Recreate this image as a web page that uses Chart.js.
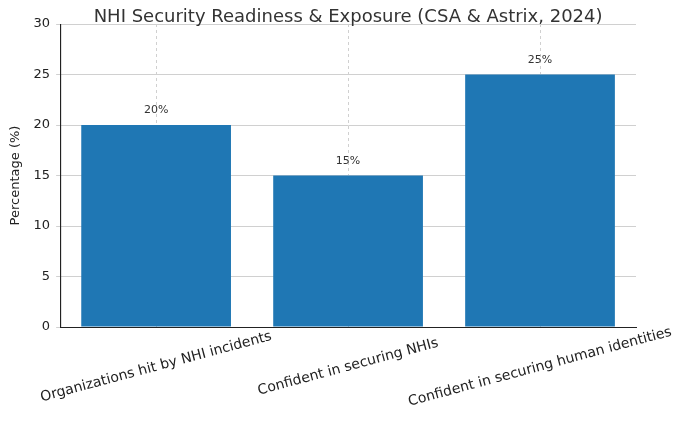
<!DOCTYPE html>
<html><head><meta charset="utf-8">
<script src="https://cdn.jsdelivr.net/npm/chart.js@4"></script>
<style>body{margin:0;background:#fff}#w{width:680px;height:427px}</style>
</head><body><div id="w"><canvas id="c"></canvas></div>
<script>
const categories = ["Organizations hit by NHI incidents","Confident in securing NHIs","Confident in securing human identities"];
const values = [20, 15, 25];
const yTicks = [0,5,10,15,20,25,30];
const FONT = "'DejaVu Sans', sans-serif";

const overlay = {
  id:'overlay',
  afterDatasetsDraw(chart){
    const ctx = chart.ctx, x = chart.scales.x, y = chart.scales.y;
    ctx.save();
    ctx.fillStyle = '#333';
    ctx.font = '11px ' + FONT;
    ctx.textAlign = 'center'; ctx.textBaseline = 'bottom';
    values.forEach((v,i)=>{ ctx.fillText(v+'%', x.getPixelForValue(i), y.getPixelForValue(v)-9); });
    ctx.font = '14px ' + FONT; ctx.fillStyle = '#222';
    categories.forEach((c,i)=>{
      ctx.save();
      ctx.translate(x.getPixelForValue(i), chart.chartArea.bottom + 40);
      ctx.rotate(-15*Math.PI/180);
      ctx.textBaseline = 'middle';
      ctx.fillText(c, 0, 0);
      ctx.restore();
    });
    ctx.font = '18px ' + FONT; ctx.fillStyle = '#333';
    ctx.textBaseline = 'middle';
    ctx.fillText('NHI Security Readiness & Exposure (CSA & Astrix, 2024)', (chart.chartArea.left+chart.chartArea.right)/2, 17);
    ctx.restore();
  }
};

new Chart(document.getElementById('c'), {
  type:'bar',
  data:{labels:categories, datasets:[{data:values, backgroundColor:'#1f77b4', barPercentage:0.78, categoryPercentage:1}]},
  options:{
    responsive:true, maintainAspectRatio:false, animation:false,
    layout:{padding:{top:24,right:44,bottom:100,left:4}},
    plugins:{legend:{display:false}, tooltip:{enabled:false}},
    scales:{
      x:{ticks:{display:false}, grid:{offset:false, color:'#d0d0d0', tickLength:0, tickBorderDash:[3,3]},
         border:{color:'#222', dash:[3,3]}},
      y:{min:0,max:30, afterBuildTicks(s){s.ticks = yTicks.map(v=>({value:v}));},
         ticks:{color:'#222', font:{size:13,family:FONT}, padding:6},
         grid:{color:'#d0d0d0', tickLength:4},
         border:{color:'#222'},
         title:{display:true,text:'Percentage (%)',color:'#222',font:{size:13,family:FONT}}}
    }
  },
  plugins:[overlay,{
    id:'dash',
    beforeInit(chart){
      chart.options.scales.x.grid.borderDash=[3,3];
      chart.options.scales.y.grid.borderDash=[3,3];
    },
    afterDraw(chart){
      const a=chart.chartArea, ctx=chart.ctx;
      ctx.save();ctx.strokeStyle='#222';ctx.lineWidth=1;
      ctx.beginPath();ctx.moveTo(a.left,a.bottom+0.5);ctx.lineTo(a.right,a.bottom+0.5);
      ctx.moveTo(a.left+0.5,a.top);ctx.lineTo(a.left+0.5,a.bottom);ctx.stroke();ctx.restore();
    }
  }]
});
</script></body></html>
